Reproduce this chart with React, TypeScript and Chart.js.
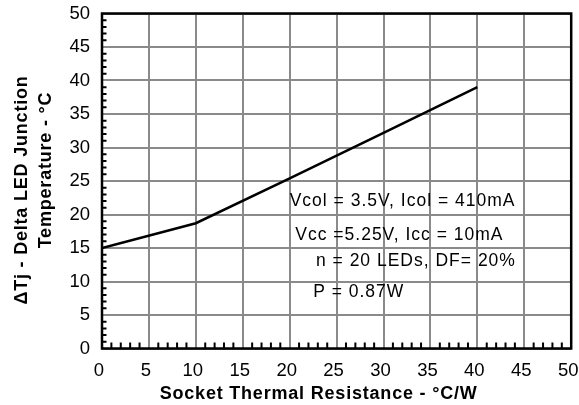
import React, { useEffect, useRef } from "react";
import { Chart, registerables } from "chart.js";

Chart.register(...registerables);

// Data
const resistance = [0, 10, 20, 30, 40];
const deltaTj = [15.0, 18.7, 25.4, 32.2, 39.0];

const xTickValues = [0, 5, 10, 15, 20, 25, 30, 35, 40, 45, 50];
const yTickValues = [0, 5, 10, 15, 20, 25, 30, 35, 40, 45, 50];

const notes = [
  "Vcol = 3.5V, Icol = 410mA",
  "Vcc =5.25V, Icc = 10mA",
  "n = 20 LEDs, DF= 20%",
  "P = 0.87W",
];
const noteX = [20.0, 20.6, 22.8, 22.5];
const noteY = [22.0, 16.9, 13.0, 8.4];

const xTitle = "Socket Thermal Resistance - °C/W";
const yTitle = ["ΔTj - Delta LED Junction", "Temperature - °C"];

const FONT = '"Liberation Sans", Arial, Helvetica, sans-serif';

const decorPlugin = {
  id: "decor",
  afterDraw(chart: any) {
    const { ctx, chartArea: a, scales } = chart;
    const x = scales.x;
    const y = scales.y;
    ctx.save();
    // minor ticks
    ctx.strokeStyle = "#000";
    ctx.lineWidth = 2;
    ctx.beginPath();
    for (let v = x.min; v <= x.max; v++) {
      if (v % 5 === 0) continue;
      const px = x.getPixelForValue(v);
      ctx.moveTo(px, a.bottom);
      ctx.lineTo(px, a.bottom - 6);
    }
    for (let v = y.min; v <= y.max; v++) {
      if (v % 5 === 0) continue;
      const py = y.getPixelForValue(v);
      ctx.moveTo(a.left, py);
      ctx.lineTo(a.left + 4.5, py);
    }
    ctx.stroke();
    // frame
    ctx.lineWidth = 2.5;
    ctx.strokeRect(a.left, a.top, a.right - a.left, a.bottom - a.top);

    // annotations
    ctx.fillStyle = "#000";
    ctx.font = `17.5px ${FONT}`;
    (ctx as any).letterSpacing = "1px";
    ctx.textAlign = "left";
    ctx.textBaseline = "middle";
    notes.forEach((t, i) => {
      ctx.fillText(t, x.getPixelForValue(noteX[i]), y.getPixelForValue(noteY[i]));
    });

    // axis titles
    ctx.font = `bold 18px ${FONT}`;
    (ctx as any).letterSpacing = "0.8px";
    ctx.textAlign = "center";
    const cx = (a.left + a.right) / 2 - 18;
    ctx.fillText(xTitle, cx, a.bottom + 46);

    const cy = (a.top + a.bottom) / 2;
    const yLineX = [22.5, 46.5];
    const yLineC = [cy + 9, cy - 11];
    yTitle.forEach((t, i) => {
      ctx.save();
      ctx.translate(yLineX[i], yLineC[i]);
      ctx.rotate(-Math.PI / 2);
      ctx.fillText(t, 0, 0);
      ctx.restore();
    });
    ctx.restore();
  },
};

export default function App() {
  const ref = useRef<HTMLCanvasElement | null>(null);

  useEffect(() => {
    if (!ref.current) return;
    const chart = new Chart(ref.current, {
      type: "line",
      data: {
        datasets: [
          {
            data: resistance.map((r, i) => ({ x: r, y: deltaTj[i] })),
            borderColor: "#000",
            borderWidth: 2.5,
            pointRadius: 0,
            tension: 0,
            fill: false,
          },
        ],
      },
      options: {
        responsive: false,
        animation: false,
        events: [],
        layout: { padding: { left: 0, right: 7.8, top: 13.5, bottom: 0 } },
        plugins: { legend: { display: false }, tooltip: { enabled: false } },
        scales: {
          x: {
            type: "linear",
            min: 0,
            max: 50,
            afterBuildTicks: (s: any) => {
              s.ticks = xTickValues.map((v) => ({ value: v }));
            },
            afterFit: (s: any) => {
              s.height = 56.5;
              s.paddingLeft = 0;
              s.paddingRight = 0;
            },
            ticks: {
              color: "#000",
              font: { family: FONT, size: 18.5 },
              padding: 11,
              labelOffset: -3,
              maxRotation: 0,
              autoSkip: false,
            },
            grid: { color: "#8a8a8a", lineWidth: 2, drawTicks: false },
            border: { display: false },
          },
          y: {
            type: "linear",
            min: 0,
            max: 50,
            afterBuildTicks: (s: any) => {
              s.ticks = yTickValues.map((v) => ({ value: v }));
            },
            afterFit: (s: any) => {
              s.width = 102;
              s.paddingTop = 0;
              s.paddingBottom = 0;
            },
            ticks: {
              color: "#000",
              font: { family: FONT, size: 18.5 },
              padding: 12,
              autoSkip: false,
            },
            grid: { color: "#8a8a8a", lineWidth: 2, drawTicks: false },
            border: { display: false },
          },
        },
      },
      plugins: [decorPlugin],
    });
    return () => chart.destroy();
  }, []);

  return (
    <div style={{ position: "fixed", left: 0, top: 0, width: 579, height: 405, background: "#fff" }}>
      <canvas ref={ref} width={579} height={405} style={{ display: "block" }} />
    </div>
  );
}
